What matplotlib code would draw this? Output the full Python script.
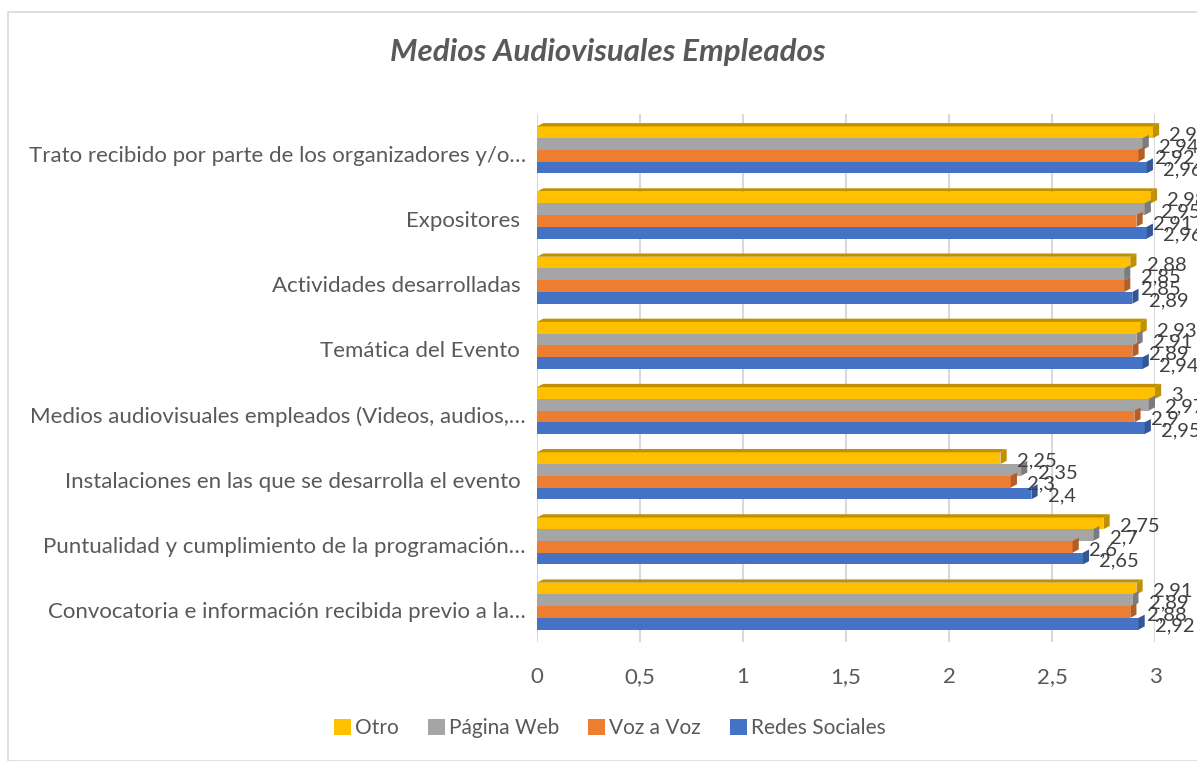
import matplotlib
matplotlib.use("Agg")
import matplotlib.pyplot as plt
from matplotlib.patches import Polygon, Rectangle
import numpy as np

plt.rcParams['font.family'] = ['Lato', 'DejaVu Sans']

categories = [
    "Trato recibido por parte de los organizadores y/o…",
    "Expositores ",
    "Actividades desarrolladas ",
    "Temática del Evento ",
    "Medios audiovisuales empleados (Videos, audios,…",
    "Instalaciones en las que se desarrolla el evento ",
    "Puntualidad y cumplimiento de la programación…",
    "Convocatoria e información recibida previo a la…",
]
series_names = ["Otro", "Página Web", "Voz a Voz", "Redes Sociales"]
otro =      [2.99, 2.98, 2.88, 2.93, 3.00, 2.25, 2.75, 2.91]
pagina =    [2.94, 2.95, 2.85, 2.91, 2.97, 2.35, 2.70, 2.89]
voz =       [2.92, 2.91, 2.85, 2.89, 2.90, 2.30, 2.60, 2.88]
redes =     [2.96, 2.96, 2.89, 2.94, 2.95, 2.40, 2.65, 2.92]
label_text = {
    0: ["2,99", "2,98", "2,88", "2,93", "3", "2,25", "2,75", "2,91"],
    1: ["2,94", "2,95", "2,85", "2,91", "2,97", "2,35", "2,7", "2,89"],
    2: ["2,92", "2,91", "2,85", "2,89", "2,9", "2,3", "2,6", "2,88"],
    3: ["2,96", "2,96", "2,89", "2,94", "2,95", "2,4", "2,65", "2,92"],
}
xticks = [0, 0.5, 1, 1.5, 2, 2.5, 3]
xticklabels = ["0", "0,5", "1", "1,5", "2", "2,5", "3"]

colors = ["#FFC000", "#A5A5A5", "#ED7D31", "#4472C4"]
dark = ["#C09000", "#7C7C7C", "#B25E25", "#335694"]
all_series = [otro, pagina, voz, redes]

W, H = 1197, 761
fig = plt.figure(figsize=(W / 100, H / 100), dpi=100)
fig.patches.append(Rectangle((8 / W, 0), 1.2, 1 - 12 / H, transform=fig.transFigure,
                             fill=False, edgecolor="#d9d9d9", linewidth=1.2))

ax = fig.add_axes([537 / W, (761 - 642) / H, 618 / W, (642 - 114) / H])
n = len(categories)
ypos = np.arange(n)[::-1]  # top category at highest y
bh = 0.18
offsets = [1.5 * bh, 0.5 * bh, -0.5 * bh, -1.5 * bh]

dx = 0.03
dy = 0.05
for si, (vals, col, dcol, off) in enumerate(zip(all_series, colors, dark, offsets)):
    yc = ypos + off
    ax.barh(yc, vals, height=bh, color=col, zorder=3, label=series_names[si])
    for i, v in enumerate(vals):
        y0 = yc[i] - bh / 2
        y1 = yc[i] + bh / 2
        # right side face
        ax.add_patch(Polygon([(v, y0), (v + dx, y0 + dy), (v + dx, y1 + dy), (v, y1)],
                             closed=True, color=dcol, zorder=3, clip_on=False, lw=0))
        if si == 0:
            ax.add_patch(Polygon([(0, y1), (v, y1), (v + dx, y1 + dy), (dx, y1 + dy)],
                                 closed=True, color=dcol, zorder=3, clip_on=False, lw=0))
        ax.text(v + 0.08, yc[i] - 0.04, label_text[si][i], ha="left", va="center",
                fontsize=14.5, color="#404040", zorder=5, clip_on=False)

ax.set_xlim(0, 3)
ax.set_ylim(-0.55, n - 0.45)
ax.set_yticks(ypos - 0.06)
ax.set_yticklabels(categories, fontsize=16, color="#595959")
ax.set_xticks(xticks)
ax.set_xticklabels(xticklabels, fontsize=16, color="#595959")
ax.tick_params(axis="both", length=0)
ax.tick_params(axis="x", pad=18)
ax.tick_params(axis="y", pad=8)
ax.grid(axis="x", color="#d9d9d9", linewidth=1.5, zorder=0)
for s in ax.spines.values():
    s.set_visible(False)

fig.text(608 / W, 1 - 52 / H, "Medios Audiovisuales Empleados", ha="center", va="center",
         fontsize=22.5, style="italic", fontweight="bold", color="#595959")

handles, labels = ax.get_legend_handles_labels()
leg = fig.legend(handles, labels, loc="center", bbox_to_anchor=(610 / W, 1 - 728 / H),
                 ncol=4, frameon=False, fontsize=15, handlelength=0.8, handleheight=0.8,
                 handletextpad=0.2, columnspacing=1.4, labelcolor="#595959")

fig.savefig("out.png", dpi=100, facecolor="white")
